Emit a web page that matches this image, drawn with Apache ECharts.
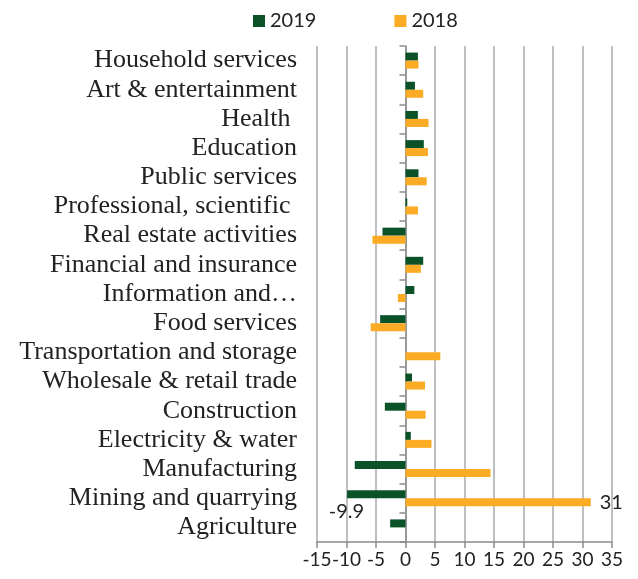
<!DOCTYPE html>
<html>
<head>
<meta charset="utf-8">
<script src="https://cdn.jsdelivr.net/npm/echarts@6/dist/echarts.min.js"></script>
<style>
html,body{margin:0;padding:0;background:#fff;}
#main{width:638px;height:579px;}
</style>
</head>
<body>
<div id="main"></div>
<script>
// sectors, top to bottom
var sectors = ['Household services', 'Art & entertainment', 'Health ', 'Education', 'Public services',
	'Professional, scientific ', 'Real estate activities', 'Financial and insurance', 'Information and\u2026',
	'Food services', 'Transportation and storage', 'Wholesale & retail trade', 'Construction',
	'Electricity & water', 'Manufacturing', 'Mining and quarrying', 'Agriculture'];
var values2019 = [2.1, 1.6, 2.1, 3.1, 2.2, 0.3, -3.9, 3.0, 1.5, -4.3, 0, 1.1, -3.5, 0.9, -8.6, -9.9, -2.6];
var values2018 = [2.2, 3.0, 3.9, 3.8, 3.6, 2.1, -5.6, 2.6, -1.3, -5.9, 5.9, 3.3, 3.4, 4.4, 14.4, 31.4, 0];
var xTicks = [-15, 35, 5]; // min, max, interval

// only the mining bars carry a value label
var labelIndex = 15;

function buildData(values, labelCfg){
	return values.map(function(v, i){
		if(i === labelIndex){
			return {value: v, label: labelCfg};
		}
		return v;
	});
}

var numFont = 'Lato, "Open Sans", sans-serif';

var option = {
	animation: false,
	legend: {
		data: ['2019', '2018'],
		left: 248,
		top: 6,
		itemWidth: 12,
		itemHeight: 12,
		itemGap: 78,
		icon: 'rect',
		textStyle: {fontFamily: numFont, fontSize: 20, color: '#222'}
	},
	grid: {left: 317, right: 26, top: 46, bottom: 37},
	xAxis: {
		type: 'value',
		min: xTicks[0],
		max: xTicks[1],
		interval: xTicks[2],
		axisLine: {show: true, lineStyle: {color: '#8c8c8c', width: 1.5}},
		axisTick: {show: true, length: 6, lineStyle: {color: '#8c8c8c', width: 1.5}},
		axisLabel: {fontFamily: numFont, fontSize: 19, color: '#222', margin: 8,
			showMinLabel: true, showMaxLabel: true, hideOverlap: false},
		splitLine: {show: true, lineStyle: {color: '#a8aaab', width: 1.5}}
	},
	yAxis: [
		{
			type: 'category',
			data: sectors,
			inverse: true,
			axisLine: {show: false, onZero: false},
			axisTick: {show: false},
			axisLabel: {fontFamily: '"Liberation Serif", "Times New Roman", serif', fontSize: 26, color: '#222',
				margin: 20, interval: 0, hideOverlap: false}
		},
		{
			type: 'category',
			data: sectors,
			inverse: true,
			position: 'left',
			axisLine: {show: true, onZero: true, lineStyle: {color: '#8c8c8c', width: 1.5}},
			axisTick: {show: true, length: 6, interval: 0, lineStyle: {color: '#8c8c8c', width: 1.5}},
			axisLabel: {show: false}
		}
	],
	series: [
		{
			name: '2019',
			type: 'bar',
			yAxisIndex: 0,
			barWidth: 8,
			barGap: '0%',
			itemStyle: {color: '#0b5229'},
			data: buildData(values2019, {
				show: true, position: 'left', offset: [22, 17],
				fontFamily: numFont, fontSize: 20, color: '#222'
			})
		},
		{
			name: '2018',
			type: 'bar',
			yAxisIndex: 0,
			barWidth: 8,
			barGap: '0%',
			itemStyle: {color: '#fbab24'},
			data: buildData(values2018, {
				show: true, position: 'right', distance: 9,
				formatter: function(p){ return p.value.toFixed(0); },
				fontFamily: numFont, fontSize: 20, color: '#222'
			})
		}
	]
};

var myChart = echarts.init(document.getElementById('main'));
myChart.setOption(option);
</script>
</body>
</html>
